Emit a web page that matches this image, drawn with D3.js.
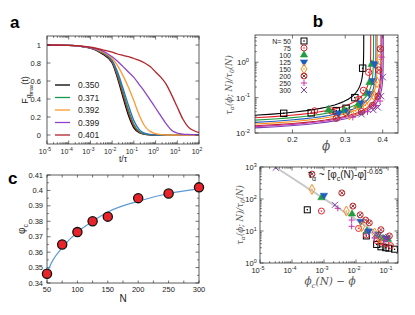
<!DOCTYPE html>
<html>
<head>
<meta charset="utf-8">
<script src="https://cdn.jsdelivr.net/npm/d3@7"></script>
<style>
  body { margin: 0; background: #fff; }
  svg { font-family: "Liberation Sans", Arial, sans-serif; }
  .ser { font-family: "DejaVu Serif", "Liberation Serif", serif; font-style: italic; }
</style>
</head>
<body>
<script>
// ---------- panel a : F_qmax(t) ----------
const aLogT = [-5, -4, -3, -2.5, -2, -1.75, -1.5, -1.25, -1, -0.75, -0.5, -0.25, 0, 0.25, 0.5, 0.75, 1, 1.25, 1.5, 1.75, 2];
const a350 = [1, 0.995, 0.965, 0.91, 0.8, 0.63, 0.42, 0.22, 0.08, 0.025, 0.008, 0.002, 0, 0, 0, 0, 0, 0, 0, 0, 0];
const aRed = [1, 0.995, 0.966, 0.915, 0.81, 0.65, 0.45, 0.25, 0.1, 0.03, 0.01, 0.003, 0, 0, 0, 0, 0, 0, 0, 0, 0];
const a371 = [1, 0.995, 0.967, 0.92, 0.82, 0.67, 0.48, 0.28, 0.12, 0.04, 0.013, 0.004, 0.001, 0, 0, 0, 0, 0, 0, 0, 0];
const aBlue = [1, 0.995, 0.968, 0.925, 0.83, 0.7, 0.52, 0.33, 0.16, 0.06, 0.02, 0.006, 0.002, 0, 0, 0, 0, 0, 0, 0, 0];
const a392 = [1, 0.995, 0.97, 0.93, 0.85, 0.77, 0.66, 0.53, 0.38, 0.22, 0.1, 0.04, 0.015, 0.005, 0, 0, 0, 0, 0, 0, 0];
const a399 = [1, 0.995, 0.97, 0.94, 0.87, 0.82, 0.76, 0.7, 0.64, 0.56, 0.48, 0.39, 0.3, 0.21, 0.12, 0.05, 0.02, 0.01, 0.006, 0.004, 0.002];
const a401 = [1, 0.995, 0.975, 0.95, 0.92, 0.9, 0.885, 0.87, 0.85, 0.83, 0.8, 0.76, 0.7, 0.64, 0.56, 0.44, 0.31, 0.18, 0.09, 0.05, 0.025];
const aSeries = [a350, aRed, a371, aBlue, a392, a399, a401];
const aColors = ["#000000", "#e41a1c", "#1a9850", "#2f6fc0", "#ff9a2e", "#8e44c8", "#b2232a"];
const aLegend = ["0.350", "0.371", "0.392", "0.399", "0.401"];
const aLegendColors = ["#000000", "#1a9850", "#ff9a2e", "#8e44c8", "#b2232a"];
const aXTicks = [-5, -4, -3, -2, -1, 0, 1, 2];
const aYTicks = [0, 0.2, 0.4, 0.6, 0.8, 1];

// ---------- panel b : tau_alpha vs phi ----------
const bN = ["50", "75", "100", "125", "150", "200", "250", "300"];
const bColors = ["#000000", "#e8212b", "#1f9e3e", "#1f5fbf", "#ff8c1a", "#b5262a", "#cc33aa", "#7e3fb5"];
const bMarkers = ["sq", "ci", "tri", "trid", "dia", "cix", "plus", "x"];
const bPhiC = [0.346, 0.365, 0.373, 0.38, 0.384, 0.395, 0.398, 0.402];
const bAmp = [0.011, 0.0099, 0.0087, 0.0077, 0.007, 0.0064, 0.0061, 0.0057];
const bExp = -0.65;
const b50 = [[0.187, 0.036], [0.231, 0.037], [0.28, 0.043], [0.302, 0.05], [0.323, 0.1], [0.343, 0.68]];
const b75 = [[0.237, 0.042], [0.27, 0.042], [0.302, 0.038], [0.333, 0.09], [0.345, 0.16], [0.359, 0.52]];
const b100 = [[0.264, 0.045], [0.298, 0.043], [0.33, 0.06], [0.355, 0.13], [0.362, 0.27], [0.368, 0.88]];
const b125 = [[0.285, 0.036], [0.306, 0.04], [0.34, 0.07], [0.362, 0.13], [0.372, 0.3], [0.376, 0.9]];
const b150 = [[0.31, 0.033], [0.325, 0.042], [0.35, 0.06], [0.373, 0.12], [0.383, 0.27], [0.39, 1.2]];
const b200 = [[0.28, 0.026], [0.34, 0.04], [0.37, 0.06], [0.386, 0.11], [0.388, 0.6], [0.393, 2.4]];
const b250 = [[0.318, 0.028], [0.356, 0.04], [0.38, 0.06], [0.392, 0.08], [0.397, 1.4]];
const b300 = [[0.34, 0.034], [0.372, 0.045], [0.385, 0.053], [0.395, 0.11], [0.4, 0.38]];
const bPoints = [b50, b75, b100, b125, b150, b200, b250, b300];

// ---------- panel c : phi_c vs N ----------
const cN = [50, 75, 100, 125, 150, 200, 250, 300];
const cPhi = [0.346, 0.365, 0.373, 0.38, 0.383, 0.395, 0.398, 0.402];
const cFitN = [50, 60, 75, 100, 125, 150, 200, 250, 300];
const cFitPhi = [0.347, 0.355, 0.363, 0.373, 0.38, 0.386, 0.393, 0.398, 0.401];
const cXTicks = [50, 100, 150, 200, 250, 300];
const cYTicks = [0.34, 0.35, 0.36, 0.37, 0.38, 0.39, 0.4, 0.41];

// ---------- panel d : tau_alpha vs phi_c - phi ----------
const d50 = [[3e-4, 46], [0.021, 7], [0.044, 3.8], [0.06, 3.2], [0.085, 3.0], [0.107, 2.9], [0.16, 2.7]];
const d75 = [[8.3e-4, 42], [0.012, 12], [0.021, 7.5], [0.044, 5], [0.06, 4.5], [0.085, 4], [0.12, 3.5]];
const d100 = [[8.3e-4, 110], [7.5e-3, 34], [0.022, 10], [0.048, 7], [0.07, 5.8], [0.1, 5.5]];
const d125 = [[1e-3, 130], [0.014, 20], [0.025, 10], [0.05, 8], [0.09, 6]];
const d150 = [[4.2e-4, 200], [5e-3, 42], [0.015, 13.6], [0.038, 8.7], [0.055, 6]];
const d200 = [[4.2e-4, 600], [3.6e-3, 155], [8e-3, 60], [0.0135, 32], [0.02, 22], [0.026, 18], [0.06, 11], [0.11, 7]];
const d250 = [[2.7e-3, 51], [7.3e-3, 22], [7.3e-3, 14], [0.038, 6], [0.08, 5]];
const d300 = [[3.1e-5, 950], [2.2e-3, 66], [0.022, 9], [0.04, 7.5], [0.07, 6.5], [0.09, 6]];
const dPoints = [d50, d75, d100, d125, d150, d200, d250, d300];
const dFit = [[3e-5, 1000], [0.1, 5.1]];
const dXTicks = [-5, -4, -3, -2, -1];
const dYTicks = [0, 1, 2, 3];

const svg = d3.select("body").append("svg").attr("width", 415).attr("height", 315);
const defs = svg.append("defs");

function sup(sel, base, exp, fs) {
  sel.text(base).append("tspan").attr("dy", -fs * 0.4).attr("font-size", fs * 0.72).text(exp);
}

function frame(g, x0, x1, y0, y1) {
  g.append("rect").attr("x", x0).attr("y", y0).attr("width", x1 - x0).attr("height", y1 - y0)
    .attr("fill", "none").attr("stroke", "#333").attr("stroke-width", 0.8);
}

function clip(id, x0, x1, y0, y1) {
  defs.append("clipPath").attr("id", id).append("rect")
    .attr("x", x0).attr("y", y0).attr("width", x1 - x0).attr("height", y1 - y0);
  return `url(#${id})`;
}

function ticksX(g, x, vals, y0, y1, len) {
  vals.forEach((v) => {
    g.append("line").attr("x1", x(v)).attr("x2", x(v)).attr("y1", y1).attr("y2", y1 - len).attr("stroke", "#333").attr("stroke-width", 0.7);
    g.append("line").attr("x1", x(v)).attr("x2", x(v)).attr("y1", y0).attr("y2", y0 + len).attr("stroke", "#333").attr("stroke-width", 0.7);
  });
}
function ticksY(g, y, vals, x0, x1, len) {
  vals.forEach((v) => {
    g.append("line").attr("y1", y(v)).attr("y2", y(v)).attr("x1", x0).attr("x2", x0 + len).attr("stroke", "#333").attr("stroke-width", 0.7);
    g.append("line").attr("y1", y(v)).attr("y2", y(v)).attr("x1", x1).attr("x2", x1 - len).attr("stroke", "#333").attr("stroke-width", 0.7);
  });
}
function minorDecades(lo, hi) {
  const out = [];
  for (let e = lo; e < hi; e++) for (let k = 2; k <= 9; k++) out.push(k * Math.pow(10, e));
  return out;
}

function marker(g, type, color, cx, cy, s) {
  const m = g.append("g").attr("transform", `translate(${cx},${cy})`);
  const open = (el) => el.attr("fill", "none").attr("stroke", color).attr("stroke-width", 1);
  const dot = () => m.append("circle").attr("r", 0.8).attr("fill", color);
  if (type === "sq") { open(m.append("rect").attr("x", -s).attr("y", -s).attr("width", 2 * s).attr("height", 2 * s)); dot(); }
  else if (type === "ci") { open(m.append("circle").attr("r", s)); dot(); }
  else if (type === "cix") {
    open(m.append("circle").attr("r", s));
    open(m.append("path").attr("d", `M${-s * 0.6},${-s * 0.6}L${s * 0.6},${s * 0.6}M${-s * 0.6},${s * 0.6}L${s * 0.6},${-s * 0.6}`));
  }
  else if (type === "dia") { open(m.append("path").attr("d", d3.symbol(d3.symbolDiamond, s * s * 3.2)())); dot(); }
  else if (type === "tri") { m.append("path").attr("d", d3.symbol(d3.symbolTriangle, s * s * 2.6)()).attr("fill", color).attr("stroke", color).attr("stroke-width", 0.5); }
  else if (type === "trid") { m.append("path").attr("transform", "rotate(180)").attr("d", d3.symbol(d3.symbolTriangle, s * s * 2.6)()).attr("fill", color).attr("stroke", color).attr("stroke-width", 0.5); }
  else if (type === "plus") { open(m.append("path").attr("d", `M${-s},0L${s},0M0,${-s}L0,${s}`)); }
  else if (type === "x") { open(m.append("path").attr("d", `M${-s},${-s}L${s},${s}M${-s},${s}L${s},${-s}`)); }
}

// ================= panel a =================
{
  const X0 = 47, X1 = 199, Y0 = 36, Y1 = 144;
  const x = d3.scaleLinear().domain([-5, 2]).range([X0, X1]);
  const y = d3.scaleLinear().domain([-0.1, 1.1]).range([Y1, Y0]);
  const g = svg.append("g");
  const line = d3.line().x((d) => x(d[0])).y((d) => y(d[1])).curve(d3.curveMonotoneX);
  const cp = clip("ca", X0, X1, Y0, Y1);
  aSeries.forEach((s, i) => {
    g.append("path").attr("clip-path", cp).attr("d", line(aLogT.map((t, j) => [t, s[j]])))
      .attr("fill", "none").attr("stroke", aColors[i]).attr("stroke-width", 1.3);
  });
  frame(g, X0, X1, Y0, Y1);
  ticksX(g, x, aXTicks, Y0, Y1, 3.5);
  ticksX(g, (v) => x(Math.log10(v)), minorDecades(-5, 2), Y0, Y1, 1.8);
  ticksY(g, y, aYTicks, X0, X1, 3.5);
  aXTicks.forEach((v) => {
    sup(g.append("text").attr("x", x(v) - 2).attr("y", Y1 + 10).attr("text-anchor", "middle").attr("font-size", 7).attr("fill", "#222"), "10", String(v), 7);
  });
  aYTicks.forEach((v) => {
    g.append("text").attr("x", X0 - 6).attr("y", y(v) + 2.5).attr("text-anchor", "end").attr("font-size", 7.5).attr("fill", "#222").text(v);
  });
  aLegend.forEach((lab, i) => {
    const ly = 85 + i * 12.5;
    g.append("line").attr("x1", 55).attr("x2", 70).attr("y1", ly).attr("y2", ly).attr("stroke", aLegendColors[i]).attr("stroke-width", 1.3);
    g.append("text").attr("x", 78).attr("y", ly + 3).attr("font-size", 8.5).attr("fill", "#222").text(lab);
  });
  g.append("text").attr("x", 10).attr("y", 28).attr("font-size", 17).attr("font-weight", "bold").text("a");
  const yl = g.append("text").attr("transform", "translate(28,90) rotate(-90)").attr("text-anchor", "middle").attr("font-size", 9).attr("fill", "#222");
  yl.append("tspan").text("F");
  yl.append("tspan").attr("dy", 3).attr("font-size", 7).text("q");
  yl.append("tspan").attr("dy", 2).attr("font-size", 5).text("max");
  yl.append("tspan").attr("dy", -5).text("(t)");
  g.append("text").attr("x", 123).attr("y", 162).attr("text-anchor", "middle").attr("font-size", 8.5).attr("fill", "#222").text("t/τ");
}

// ================= panel b =================
{
  const X0 = 255, X1 = 398, Y0 = 35, Y1 = 133;
  const x = d3.scaleLog().domain([0.15, 0.45]).range([X0, X1]);
  const y = d3.scaleLog().domain([0.01, 5.9]).range([Y1, Y0]);
  const g = svg.append("g");
  const cp = clip("cb", X0, X1, Y0, Y1);
  const line = d3.line().x((d) => x(d[0])).y((d) => y(d[1]));
  bPhiC.forEach((pc, i) => {
    // fitted power law  tau = A (phi_c - phi)^-0.65
    const pts = d3.range(0, 1.0001, 0.01).map((u) => {
      const dphi = Math.pow(10, Math.log10(pc - 0.15) - u * 5);
      return [pc - dphi, bAmp[i] * Math.pow(dphi, bExp)];
    });
    g.append("path").attr("clip-path", cp).attr("d", line(pts)).attr("fill", "none").attr("stroke", bColors[i]).attr("stroke-width", 1.1);
  });
  bPoints.forEach((pts, i) => {
    pts.forEach((p) => marker(g, bMarkers[i], bColors[i], x(p[0]), y(p[1]), 3.2));
  });
  frame(g, X0, X1, Y0, Y1);
  ticksX(g, x, [0.2, 0.3, 0.4], Y0, Y1, 3.5);
  ticksY(g, y, [0.01, 0.1, 1], X0, X1, 3.5);
  ticksY(g, y, minorDecades(-2, 1).filter((v) => v < 5.9), X0, X1, 1.8);
  [0.2, 0.3, 0.4].forEach((v) => {
    g.append("text").attr("x", x(v)).attr("y", Y1 + 9).attr("text-anchor", "middle").attr("font-size", 7.5).attr("fill", "#222").text(v);
  });
  [[1, "0"], [0.1, "-1"], [0.01, "-2"]].forEach(([v, e]) => {
    sup(g.append("text").attr("x", X0 - 12).attr("y", y(v) + 3).attr("text-anchor", "middle").attr("font-size", 8).attr("fill", "#222"), "10", e, 8);
  });
  bN.forEach((n, i) => {
    const ly = 41 + i * 7;
    g.append("text").attr("x", 291).attr("y", ly + 2.5).attr("text-anchor", "end").attr("font-size", 7).attr("fill", "#222").text(i === 0 ? "N= " + n : n);
    marker(g, bMarkers[i], bColors[i], 304, ly, 3);
  });
  g.append("text").attr("x", 318).attr("y", 27).attr("text-anchor", "middle").attr("font-size", 17).attr("font-weight", "bold").text("b");
  const yl = g.append("text").attr("class", "ser").attr("transform", "translate(232,85) rotate(-90)").attr("text-anchor", "middle").attr("font-size", 8.5).attr("fill", "#555");
  yl.append("tspan").text("τ");
  yl.append("tspan").attr("dy", 2).attr("font-size", 6).text("α");
  yl.append("tspan").attr("dy", -2).text("(ϕ; N)/τ");
  yl.append("tspan").attr("dy", 2).attr("font-size", 6).text("0");
  yl.append("tspan").attr("dy", -2).text("(N)");
  g.append("text").attr("class", "ser").attr("x", 326).attr("y", 150).attr("text-anchor", "middle").attr("font-size", 12).attr("fill", "#555").text("ϕ");
}

// ================= panel c =================
{
  const X0 = 47, X1 = 199, Y0 = 175, Y1 = 283;
  const x = d3.scaleLinear().domain([50, 300]).range([X0, X1]);
  const y = d3.scaleLinear().domain([0.34, 0.41]).range([Y1, Y0]);
  const g = svg.append("g");
  frame(g, X0, X1, Y0, Y1);
  ticksX(g, x, d3.range(50, 301, 25), Y0, Y1, 2.5);
  ticksY(g, y, cYTicks, X0, X1, 3.5);
  ticksY(g, y, d3.range(0.345, 0.41, 0.01), X0, X1, 1.8);
  const line = d3.line().x((d) => x(d[0])).y((d) => y(d[1])).curve(d3.curveMonotoneX);
  g.append("path").attr("d", line(cFitN.map((n, i) => [n, cFitPhi[i]]))).attr("fill", "none").attr("stroke", "#5b9bd5").attr("stroke-width", 1.2);
  cN.forEach((n, i) => {
    g.append("circle").attr("cx", x(n)).attr("cy", y(cPhi[i])).attr("r", 4.6).attr("fill", "#e8242a").attr("stroke", "#111").attr("stroke-width", 1.3);
  });
  cXTicks.forEach((v) => {
    g.append("text").attr("x", x(v)).attr("y", Y1 + 9).attr("text-anchor", "middle").attr("font-size", 7.5).attr("fill", "#222").text(v);
  });
  cYTicks.forEach((v) => {
    g.append("text").attr("x", X0 - 4).attr("y", y(v) + 2.5).attr("text-anchor", "end").attr("font-size", 7.5).attr("fill", "#222").text(d3.format(".2~f")(v));
  });
  g.append("text").attr("x", 8).attr("y", 184).attr("font-size", 17).attr("font-weight", "bold").text("c");
  const yl = g.append("text").attr("transform", "translate(25,229) rotate(-90)").attr("text-anchor", "middle").attr("font-size", 10).attr("fill", "#222");
  yl.append("tspan").text("φ");
  yl.append("tspan").attr("dy", 2.5).attr("font-size", 7).text("c");
  g.append("text").attr("x", 123).attr("y", 302).attr("text-anchor", "middle").attr("font-size", 10).attr("fill", "#222").text("N");
}

// ================= panel d =================
{
  const X0 = 260, X1 = 398, Y0 = 167, Y1 = 263;
  const x = d3.scaleLog().domain([1e-5, 0.205]).range([X0, X1]);
  const y = d3.scaleLog().domain([1, 1000]).range([Y1, Y0]);
  const g = svg.append("g");
  const cp = clip("cd", X0, X1, Y0, Y1);
  g.append("path").attr("d", d3.line().x((d) => x(d[0])).y((d) => y(d[1]))(dFit))
    .attr("stroke", "#c8c8c8").attr("stroke-width", 2).attr("fill", "none");
  dPoints.forEach((pts, i) => {
    pts.forEach((p) => marker(g.append("g").attr("clip-path", cp), bMarkers[i], bColors[i], x(p[0]), y(p[1]), 3));
  });
  frame(g, X0, X1, Y0, Y1);
  ticksX(g, (v) => x(Math.pow(10, v)), dXTicks, Y0, Y1, 3.5);
  ticksX(g, x, minorDecades(-5, 0).filter((v) => v < 0.205), Y0, Y1, 1.8);
  ticksY(g, (v) => y(Math.pow(10, v)), dYTicks, X0, X1, 3.5);
  ticksY(g, y, minorDecades(0, 3), X0, X1, 1.8);
  dXTicks.forEach((v) => {
    sup(g.append("text").attr("x", x(Math.pow(10, v)) - 2).attr("y", Y1 + 10).attr("text-anchor", "middle").attr("font-size", 7.5).attr("fill", "#222"), "10", String(v), 7.5);
  });
  dYTicks.forEach((v) => {
    sup(g.append("text").attr("x", X0 - 9).attr("y", y(Math.pow(10, v)) + 3).attr("text-anchor", "middle").attr("font-size", 7.5).attr("fill", "#222"), "10", String(v), 7.5);
  });
  const t = g.append("text").attr("x", 308).attr("y", 178).attr("font-size", 10).attr("fill", "#222");
  t.append("tspan").text("τ");
  t.append("tspan").attr("dy", 2.5).attr("font-size", 7).text("α");
  t.append("tspan").attr("dy", -2.5).text(" ~ [φ");
  t.append("tspan").attr("dy", 2.5).attr("font-size", 7).text("c");
  t.append("tspan").attr("dy", -2.5).text("(N)-φ]");
  t.append("tspan").attr("dy", -4).attr("font-size", 7).text("-0.65");
  const yl = g.append("text").attr("class", "ser").attr("transform", "translate(243,215) rotate(-90)").attr("text-anchor", "middle").attr("font-size", 8.5).attr("fill", "#555");
  yl.append("tspan").text("τ");
  yl.append("tspan").attr("dy", 2).attr("font-size", 6).text("α");
  yl.append("tspan").attr("dy", -2).text("(ϕ; N)/τ");
  yl.append("tspan").attr("dy", 2).attr("font-size", 6).text("0");
  yl.append("tspan").attr("dy", -2).text("(N)");
  const xl = g.append("text").attr("class", "ser").attr("x", 330).attr("y", 285).attr("text-anchor", "middle").attr("font-size", 10.5).attr("fill", "#555");
  xl.append("tspan").text("ϕ");
  xl.append("tspan").attr("dy", 2.5).attr("font-size", 7).text("c");
  xl.append("tspan").attr("dy", -2.5).text("(N) − ϕ");
}
</script>
</body>
</html>
